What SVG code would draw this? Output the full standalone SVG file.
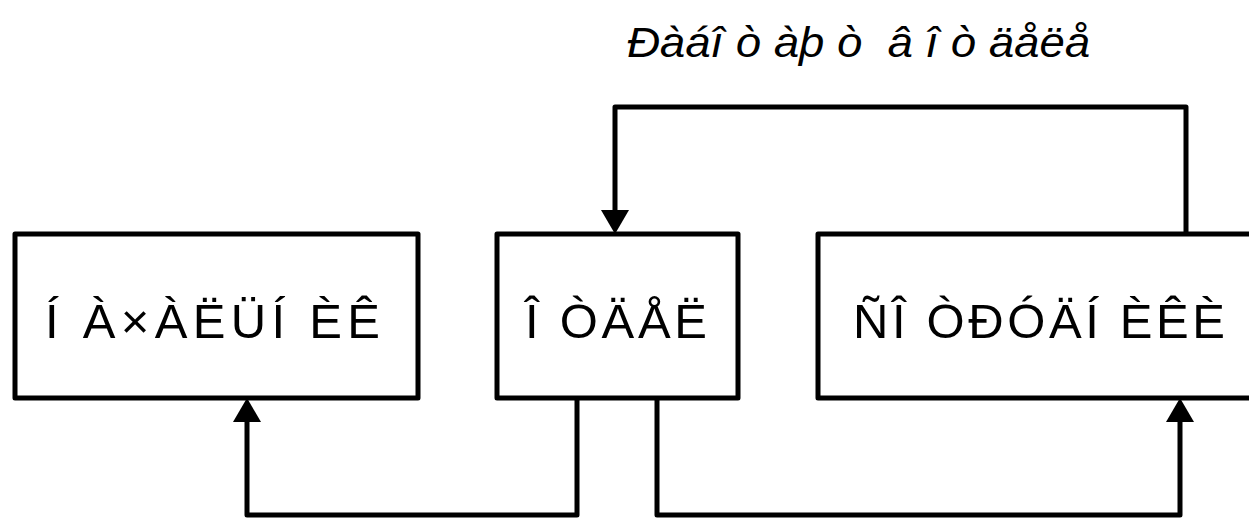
<svg xmlns="http://www.w3.org/2000/svg" width="1249" height="519" viewBox="0 0 1249 519">
<style>
.box{fill:#fff;stroke:#000;stroke-width:5;stroke-linejoin:round}
.lbl{font-family:"Liberation Sans",Arial,sans-serif;font-size:49px;fill:#000}
.conn{fill:none;stroke:#000;stroke-width:5;stroke-linejoin:round}
.title{font-family:"Liberation Sans",Arial,sans-serif;font-size:43px;font-style:italic;fill:#000;white-space:pre}
</style>
<defs>
<marker id="arr" viewBox="0 0 24 28" markerWidth="24" markerHeight="28" refX="12" refY="14" orient="auto" markerUnits="userSpaceOnUse">
<path d="M0,0 L24,14 L0,28 z" fill="#000"/>
</marker>
</defs>
<rect width="1249" height="519" fill="#fff"/>
<text class="title" x="627" y="57" textLength="463" lengthAdjust="spacingAndGlyphs" xml:space="preserve">Ðàáî ò àþ ò  â î ò äåëå</text>
<g id="node-left">
<rect class="box" x="15" y="234" width="403" height="164"/>
<text class="lbl" x="45" y="338" textLength="335" lengthAdjust="spacing">Í À×ÀËÜÍ ÈÊ</text>
</g>
<g id="node-middle">
<rect class="box" x="497" y="234" width="241" height="164"/>
<text class="lbl" x="525" y="338" textLength="182" lengthAdjust="spacing">Î ÒÄÅË</text>
</g>
<g id="node-right">
<rect class="box" x="818" y="234" width="450" height="164"/>
<text class="lbl" x="853" y="338" textLength="372" lengthAdjust="spacing">ÑÎ ÒÐÓÄÍ ÈÊÈ</text>
</g>
<g id="connectors">
<path class="conn" d="M1186,234 V107 H615 V222" marker-end="url(#arr)"/>
<path class="conn" d="M577,398 V515 H247 V410" marker-end="url(#arr)"/>
<path class="conn" d="M657,398 V515 H1180 V410" marker-end="url(#arr)"/>
</g>
</svg>
